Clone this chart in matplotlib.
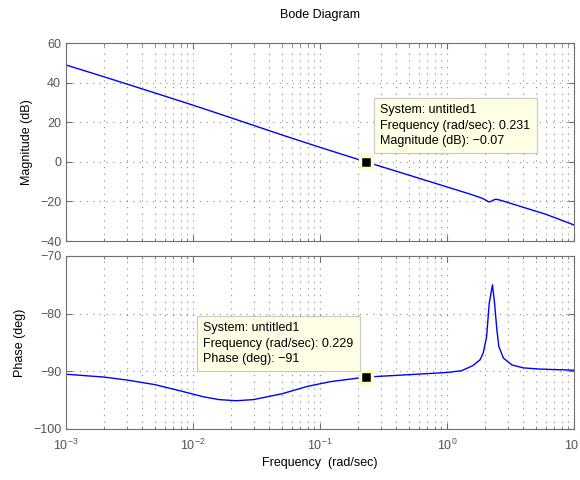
import matplotlib
matplotlib.use("Agg")
import matplotlib.pyplot as plt
from matplotlib.ticker import LogLocator, NullFormatter, FixedLocator

plt.rcParams['font.family'] = ['Liberation Sans', 'DejaVu Sans']

# ---- data ----
mag_freq = [0.001, 0.002, 0.005, 0.01, 0.02, 0.05, 0.1, 0.231, 0.5, 1.0, 1.5, 1.8,
            1.95, 2.05, 2.12, 2.2, 2.3, 2.43, 2.6, 3.0, 4.0, 6.0, 10.0]
mag_db = [48.9, 42.9, 34.8, 28.6, 22.2, 13.6, 7.3, -0.07, -6.7, -12.7, -16.2, -17.9,
          -18.8, -19.6, -20.2, -20.1, -19.4, -18.9, -19.3, -20.5, -23.0, -26.5, -31.9]

ph_freq = [0.001, 0.002, 0.003, 0.005, 0.008, 0.012, 0.016, 0.022, 0.03, 0.05, 0.08,
           0.12, 0.18, 0.229, 0.4, 0.7, 1.0, 1.3, 1.6, 1.82, 1.93, 2.05, 2.15, 2.28,
           2.37, 2.47, 2.56, 2.78, 3.25, 4.0, 5.3, 7.0, 10.0]
ph_deg = [-90.5, -91.0, -91.5, -92.3, -93.4, -94.4, -94.9, -95.1, -94.9, -93.9, -92.6,
          -91.8, -91.3, -91.0, -90.7, -90.4, -90.2, -89.9, -89.0, -88.0, -86.8, -84.0,
          -78.2, -75.0, -78.2, -82.8, -85.7, -87.7, -88.9, -89.4, -89.6, -89.7, -89.8]

mag_tip = (0.231, -0.07)
ph_tip = (0.229, -91)
mag_tip_text = "System: untitled1\nFrequency (rad/sec): 0.231\nMagnitude (dB): \u22120.07"
ph_tip_text = "System: untitled1\nFrequency (rad/sec): 0.229\nPhase (deg): \u221291"

mag_ticks = [60, 40, 20, 0, -20, -40]
ph_ticks = [-70, -80, -90, -100]

title = "Bode Diagram"
xlabel = "Frequency  (rad/sec)"

# ---- figure ----
W, H = 580, 480
fig = plt.figure(figsize=(W / 100, H / 100), dpi=100)

def frac_axes(x0, y0, x1, y1):
    return fig.add_axes([x0 / W, 1 - y1 / H, (x1 - x0) / W, (y1 - y0) / H])

ax1 = frac_axes(66, 43, 574, 241)
ax2 = frac_axes(66, 256, 574, 429)

axcol = '#707070'
grid_kw = dict(color='#8a8a8a', linestyle=(0, (1, 5)), linewidth=0.8)

for ax in (ax1, ax2):
    ax.set_xscale('log')
    ax.set_xlim(1e-3, 10)
    for s in ax.spines.values():
        s.set_color(axcol)
        s.set_linewidth(0.8)
    ax.tick_params(which='both', direction='in', top=True, right=True,
                   colors=axcol, labelcolor='#555555', labelsize=9)
    ax.tick_params(which='major', length=4)
    ax.tick_params(which='minor', length=2)
    ax.xaxis.set_major_locator(LogLocator(base=10, numticks=10))
    ax.xaxis.set_minor_locator(LogLocator(base=10, subs=range(2, 10), numticks=100))
    ax.xaxis.set_minor_formatter(NullFormatter())
    ax.grid(True, which='major', axis='both', **grid_kw)
    ax.grid(True, which='minor', axis='x', **grid_kw)
    ax.set_axisbelow(True)

ax1.plot(mag_freq, mag_db, color='#0000ff', linewidth=1.0)
ax1.set_ylim(-40, 60)
ax1.yaxis.set_major_locator(FixedLocator(mag_ticks))
ax1.tick_params(axis='x', which='both', labelbottom=False)
ax1.set_ylabel("Magnitude (dB)", fontsize=9, labelpad=5)

ax2.plot(ph_freq, ph_deg, color='#0000ff', linewidth=1.0)
ax2.set_ylim(-100, -70)
ax2.yaxis.set_major_locator(FixedLocator(ph_ticks))
ax2.set_ylabel("Phase (deg)", fontsize=9, labelpad=5)
ax2.set_xlabel(xlabel, fontsize=9, labelpad=3)
ax2.tick_params(axis='x', which='major', pad=6)

fig.text((66 + 574) / 2 / W, 1 - 15 / H, title, ha='center', va='center', fontsize=9)

box_kw = dict(boxstyle='square,pad=0.5', facecolor='#ffffe6', edgecolor='#c8c8c8', linewidth=0.8)
for ax, tip, txt, pos in ((ax1, mag_tip, mag_tip_text, (0.6186, 0.476)),
                          (ax2, ph_tip, ph_tip_text, (0.2702, 0.3714))):
    ax.plot([tip[0]], [tip[1]], marker='s', markersize=8, markerfacecolor='black',
            markeredgecolor='#ffffc8', markeredgewidth=2.5, zorder=5)
    ax.text(pos[0], pos[1], txt, transform=ax.transAxes, ha='left', va='bottom',
            fontsize=9, linespacing=1.35, bbox=box_kw, zorder=6)

fig.savefig("out.png", dpi=100)
